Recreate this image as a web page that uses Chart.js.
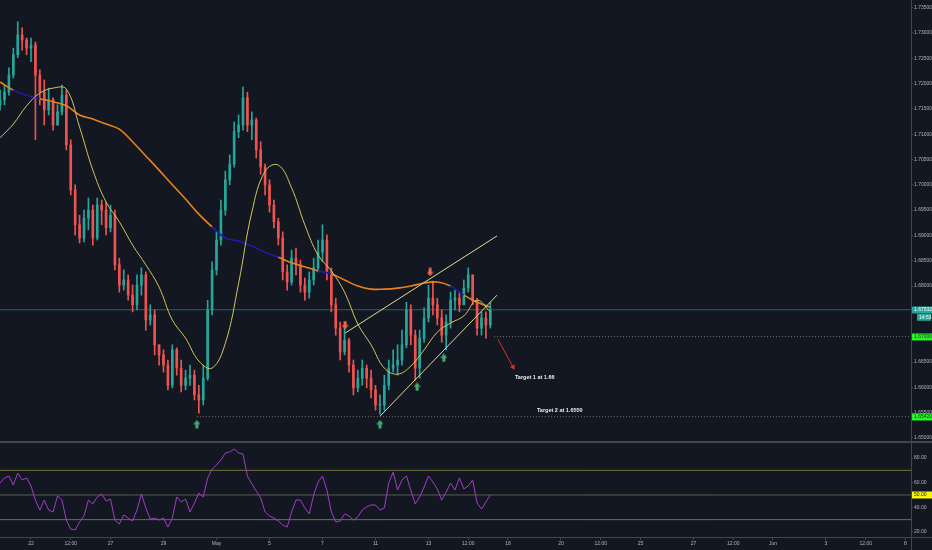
<!DOCTYPE html>
<html>
<head>
<meta charset="utf-8">
<script src="https://cdn.jsdelivr.net/npm/chart.js@4"></script>
<style>
  html, body { margin: 0; padding: 0; background: #131722; }
</style>
</head>
<body>
<canvas id="myChart" width="932" height="550"></canvas>
<script>
// 4h bars, time in trading days from Apr 22 00:00 (weekends removed)
const barStart = -7 / 6;
const barStep = 1 / 6;
const maStep = 0.5;

const close = [
  1.7168, 1.7183, 1.7217, 1.7257, 1.7296, 1.7286, 1.7270, 1.7276, 1.7217, 1.7183,
  1.7148, 1.7168, 1.7118, 1.7144, 1.7177, 1.7079, 1.6990, 1.6921, 1.6895, 1.6934,
  1.6950, 1.6895, 1.6960, 1.6950, 1.6915, 1.6940, 1.6842, 1.6802, 1.6812, 1.6782,
  1.6763, 1.6802, 1.6822, 1.6733, 1.6743, 1.6684, 1.6664, 1.6644, 1.6604, 1.6674,
  1.6638, 1.6604, 1.6618, 1.6624, 1.6585, 1.6575, 1.6618, 1.6753, 1.6832, 1.6891,
  1.6950, 1.7010, 1.7041, 1.7105, 1.7118, 1.7172, 1.7118, 1.7128, 1.7069, 1.7035,
  1.7000, 1.6960, 1.6927, 1.6895, 1.6828, 1.6808, 1.6855, 1.6842, 1.6802, 1.6788,
  1.6812, 1.6836, 1.6867, 1.6891, 1.6828, 1.6763, 1.6717, 1.6670, 1.6693, 1.6644,
  1.6599, 1.6618, 1.6638, 1.6618, 1.6595, 1.6565, 1.6565, 1.6604, 1.6638, 1.6644,
  1.6654, 1.6684, 1.6753, 1.6703, 1.6638, 1.6697, 1.6737, 1.6776, 1.6763, 1.6737,
  1.6703, 1.6729, 1.6772, 1.6776, 1.6763, 1.6796, 1.6822, 1.6772, 1.6717, 1.6737,
  1.6723, 1.67532
];
const high = [
  1.7187, 1.7197, 1.7231, 1.7270, 1.7322, 1.7310, 1.7290, 1.7290, 1.7282, 1.7227,
  1.7207, 1.7191, 1.7172, 1.7158, 1.7197, 1.7187, 1.7089, 1.7000, 1.6940, 1.6950,
  1.6974, 1.6960, 1.6974, 1.6970, 1.6966, 1.6960, 1.6950, 1.6855, 1.6832, 1.6822,
  1.6802, 1.6822, 1.6836, 1.6828, 1.6763, 1.6753, 1.6684, 1.6674, 1.6654, 1.6684,
  1.6678, 1.6654, 1.6634, 1.6644, 1.6634, 1.6604, 1.6644, 1.6772, 1.6848, 1.6907,
  1.6970, 1.7027, 1.7059, 1.7124, 1.7138, 1.7193, 1.7183, 1.7144, 1.7132, 1.7085,
  1.7041, 1.7010, 1.6970, 1.6934, 1.6907, 1.6842, 1.6871, 1.6875, 1.6851, 1.6816,
  1.6828, 1.6855, 1.6891, 1.6921, 1.6901, 1.6836, 1.6776, 1.6729, 1.6723, 1.6697,
  1.6654, 1.6634, 1.6654, 1.6644, 1.6634, 1.6604, 1.6585, 1.6624, 1.6654, 1.6674,
  1.6684, 1.6713, 1.6768, 1.6763, 1.6713, 1.6713, 1.6757, 1.6802, 1.6810, 1.6776,
  1.6753, 1.6743, 1.6788, 1.6792, 1.6788, 1.6812, 1.6836, 1.6822, 1.6776, 1.6749,
  1.6749, 1.6768
];
const low = [
  1.7148, 1.7158, 1.7177, 1.7211, 1.7251, 1.7266, 1.7257, 1.7243, 1.7089, 1.7158,
  1.7118, 1.7138, 1.7108, 1.7118, 1.7138, 1.7069, 1.6980, 1.6901, 1.6885, 1.6887,
  1.6911, 1.6881, 1.6891, 1.6921, 1.6901, 1.6907, 1.6832, 1.6788, 1.6792, 1.6772,
  1.6749, 1.6753, 1.6782, 1.6713, 1.6723, 1.6664, 1.6644, 1.6630, 1.6595, 1.6599,
  1.6624, 1.6591, 1.6595, 1.6604, 1.6575, 1.6549, 1.6565, 1.6614, 1.6743, 1.6822,
  1.6881, 1.6940, 1.7000, 1.7035, 1.7093, 1.7108, 1.7105, 1.7089, 1.7053, 1.7021,
  1.6980, 1.6946, 1.6915, 1.6881, 1.6812, 1.6792, 1.6802, 1.6822, 1.6788, 1.6772,
  1.6776, 1.6802, 1.6828, 1.6848, 1.6812, 1.6749, 1.6703, 1.6654, 1.6664, 1.6630,
  1.6585, 1.6591, 1.6604, 1.6599, 1.6579, 1.6555, 1.6547, 1.6555, 1.6595, 1.6630,
  1.6624, 1.6644, 1.6678, 1.6684, 1.6614, 1.6618, 1.6689, 1.6729, 1.6743, 1.6723,
  1.6689, 1.6674, 1.6717, 1.6753, 1.6749, 1.6763, 1.6788, 1.6763, 1.6703, 1.6703,
  1.6697, 1.6717
];
const firstOpen = 1.7158;

// moving averages, one value every half day
const fastMa = [
  1.7093, 1.7120, 1.7156, 1.7181, 1.7191, 1.7189, 1.7114, 1.7029, 1.6966, 1.6927,
  1.6881, 1.6842, 1.6798, 1.6733, 1.6697, 1.6652, 1.6638, 1.6687, 1.6805, 1.6946,
  1.7027, 1.7039, 1.6994, 1.6921, 1.6861, 1.6830, 1.6788, 1.6725, 1.6684, 1.6638,
  1.6626, 1.6642, 1.6674, 1.6709, 1.6727, 1.6741, 1.6772, 1.6749
];
const slowMa = [
  1.7203, 1.7187, 1.7177, 1.7170, 1.7164, 1.7156, 1.7138, 1.7130, 1.7120, 1.7110,
  1.7085, 1.7057, 1.7029, 1.7000, 1.6972, 1.6942, 1.6917, 1.6895, 1.6889, 1.6879,
  1.6867, 1.6857, 1.6846, 1.6838, 1.6830, 1.6824, 1.6812, 1.6800, 1.6794, 1.6794,
  1.6796, 1.6800, 1.6806, 1.6808, 1.6800, 1.6782, 1.6768, 1.6758
];
// stretches where the slow average is painted blue
const blueSpans = [[-0.85, 0.25], [7.05, 9.4], [10.9, 11.3], [15.9, 16.3]];

const rsi = [
  59.7, 63.8, 65.4, 58.1, 67.8, 62.2, 63.8, 57.3, 45.9, 37.8,
  45.9, 37.8, 36.2, 49.2, 45.9, 29.7, 22.4, 21.6, 28.1, 33.0,
  45.9, 42.7, 48.4, 50.8, 45.1, 46.7, 29.7, 26.5, 33.8, 31.3,
  28.9, 37.8, 50.8, 39.4, 30.5, 31.3, 29.7, 31.3, 24.0, 31.3,
  48.4, 44.3, 46.7, 36.2, 43.5, 51.6, 48.4, 63.8, 71.1, 74.3,
  78.4, 84.1, 84.9, 87.3, 84.1, 83.2, 65.4, 58.9, 53.2, 47.6,
  36.2, 33.0, 31.3, 28.9, 25.7, 24.0, 36.2, 45.9, 45.9, 39.4,
  34.6, 50.0, 60.5, 65.4, 54.0, 36.2, 28.1, 28.9, 34.6, 33.0,
  29.7, 32.1, 37.8, 40.3, 41.9, 41.9, 37.8, 39.4, 59.7, 68.6,
  54.0, 62.2, 65.4, 54.0, 42.7, 48.4, 56.5, 65.4, 60.5, 54.9,
  45.9, 52.4, 59.7, 54.0, 63.8, 54.9, 57.3, 62.2, 43.5, 38.6,
  44.3, 50.0
];

const xTickPos = [0, 1.5, 3, 5, 7, 9, 11, 13, 15, 16.5, 18, 20, 21.5, 23, 25, 26.5, 28, 30, 31.5, 33];
const xTickLabels = ['22', '12:00', '27', '29', 'May', '5', '7', '11', '13', '12:00', '18', '20', '12:00', '25', '27', '12:00', 'Jun', '3', '12:00', '8'];
const priceTicks = [1.650, 1.655, 1.660, 1.665, 1.670, 1.675, 1.680, 1.685, 1.690, 1.695, 1.700,
  1.705, 1.710, 1.715, 1.720, 1.725, 1.730, 1.735];
const rsiTicks = [20, 40, 60, 80];

// drawings on the chart
const lastPrice = 1.67532;
const level1 = 1.6700;
const level2 = 1.6542;
const upperLine = [{x: 11.85, y: 1.6707}, {x: 17.585, y: 1.6899}];
const lowerLine = [{x: 13.17, y: 1.6543}, {x: 17.585, y: 1.6782}];
const buyMarks = [{x: 6.26, y: 1.6527}, {x: 13.17, y: 1.6527}, {x: 14.57, y: 1.6601}, {x: 15.58, y: 1.6658}];
const sellMarks = [{x: 11.85, y: 1.6723}, {x: 15.06, y: 1.6828}];
const targetArrow = [{x: 17.62, y: 1.6695}, {x: 18.19, y: 1.6640}];
const notes = [
  {x: 18.26, y: 1.6620, text: 'Target 1 at 1.66'},
  {x: 19.09, y: 1.6555, text: 'Target 2 at 1.6550'}
];

const xMin = -1.1698, xMax = 33.208;

const bg = '#131722';
const up = '#26a69a', down = '#ef5350';
const axisLine = '#434651';
const axisText = '#b2b5be';

let ctx = document.getElementById('myChart').getContext('2d');

const open = [firstOpen].concat(close.slice(0, -1));
const barT = close.map((c, i) => barStart + i * barStep);
const maT = fastMa.map((v, i) => barStart + i * maStep);
const candleColors = close.map((c, i) => c >= open[i] ? up : down);

function arrowImage(color, pointUp) {
  const c = document.createElement('canvas');
  c.width = 7; c.height = 9;
  const g = c.getContext('2d');
  g.fillStyle = color;
  g.beginPath();
  if (pointUp) { g.moveTo(3.5, 0); g.lineTo(7, 4.5); g.lineTo(0, 4.5); }
  else { g.moveTo(3.5, 9); g.lineTo(7, 4.5); g.lineTo(0, 4.5); }
  g.fill();
  g.fillRect(2, pointUp ? 4 : 0.5, 3, 4.5);
  return c;
}

function inBlue(a, b) {
  const m = (a + b) / 2;
  return blueSpans.some(s => m > s[0] && m < s[1]);
}

function flat(y, from, to) {
  return [{x: from, y: y}, {x: to, y: y}];
}

const paneTags = {
  id: 'paneTags',
  beforeDraw(chart) {
    const c = chart.ctx;
    c.save();
    c.fillStyle = bg;
    c.fillRect(0, 0, chart.width, chart.height);
    c.restore();
  },
  afterDraw(chart) {
    const c = chart.ctx;
    const ys = chart.scales.y, rs = chart.scales.rsi, xs = chart.scales.x;
    const right = chart.chartArea.right;
    c.save();
    c.fillStyle = axisLine;
    c.fillRect(0, ys.bottom, chart.width, 2);
    c.fillRect(0, rs.bottom, chart.width, 1);
    c.fillRect(right, 0, 1, chart.height);

    c.font = 'bold 5.5px "Liberation Sans"';
    c.fillStyle = '#ebebeb';
    c.textBaseline = 'middle';
    c.textAlign = 'left';
    notes.forEach(n => c.fillText(n.text, xs.getPixelForValue(n.x), ys.getPixelForValue(n.y)));

    function tag(y, text, fill, ink) {
      c.fillStyle = fill;
      c.fillRect(right + 1, Math.round(y) - 3.5, chart.width - right - 1, 7);
      c.fillStyle = ink;
      c.font = '5px "Liberation Sans"';
      c.fillText(text, right + 3, Math.round(y));
    }
    const py = ys.getPixelForValue(lastPrice);
    tag(py, lastPrice.toFixed(5), up, '#ffffff');
    c.fillStyle = up;
    c.fillRect(right + 6, py + 4, 14, 7);
    c.fillStyle = '#ffffff';
    c.fillText('14:53', right + 8, py + 7.5);
    tag(ys.getPixelForValue(level1), '1.67000', '#2cf22c', '#0d3d0d');
    tag(ys.getPixelForValue(level2), '1.65420', '#2cf22c', '#0d3d0d');
    tag(rs.getPixelForValue(50), '50.00', '#f5f50a', '#222222');
    c.restore();
  }
};

myChart = new Chart(ctx, {
  type: 'bar',
  data: {
    datasets: [
      {
        label: 'Wicks',
        data: barT.map((t, i) => ({x: t, y: [low[i], high[i]]})),
        backgroundColor: candleColors,
        barThickness: 1,
        grouped: false,
        yAxisID: 'y',
        order: 20
      },
      {
        label: 'Bodies',
        data: barT.map((t, i) => ({x: t, y: [open[i], close[i]]})),
        backgroundColor: candleColors,
        barThickness: 2,
        minBarLength: 1,
        grouped: false,
        yAxisID: 'y',
        order: 19
      },
      {
        type: 'line', label: 'Last', data: flat(lastPrice, xMin, xMax),
        borderColor: 'rgba(38,166,154,0.55)', borderWidth: 1, pointRadius: 0, yAxisID: 'y', order: 25
      },
      {
        type: 'line', label: 'Level 1', data: flat(level1, 17.47, xMax),
        borderColor: '#787b86', borderWidth: 1, borderDash: [1, 2], pointRadius: 0, yAxisID: 'y', order: 24
      },
      {
        type: 'line', label: 'Level 2', data: flat(level2, 6.26, xMax),
        borderColor: '#6f7a70', borderWidth: 1, borderDash: [1, 2], pointRadius: 0, yAxisID: 'y', order: 24
      },
      {
        type: 'line', label: 'Slow MA',
        data: maT.map((t, i) => ({x: t, y: slowMa[i]})),
        borderColor: '#e8821e', borderWidth: 1.6, pointRadius: 0, tension: 0.4, yAxisID: 'y', order: 8,
        segment: { borderColor: s => inBlue(s.p0.parsed.x, s.p1.parsed.x) ? '#1d1dab' : '#e8821e' }
      },
      {
        type: 'line', label: 'Fast MA',
        data: maT.map((t, i) => ({x: t, y: fastMa[i]})),
        borderColor: '#d2c55a', borderWidth: 1, pointRadius: 0, tension: 0.4, yAxisID: 'y', order: 7
      },
      {
        type: 'line', label: 'Upper', data: upperLine,
        borderColor: '#e3dc8e', borderWidth: 1, pointRadius: 0, yAxisID: 'y', order: 5
      },
      {
        type: 'line', label: 'Lower', data: lowerLine,
        borderColor: '#e3dc8e', borderWidth: 1, pointRadius: 0, yAxisID: 'y', order: 5
      },
      {
        type: 'line', label: 'Target arrow', data: targetArrow,
        borderColor: '#e3302a', borderWidth: 1, yAxisID: 'y', order: 4,
        pointRadius: [0, 3], pointStyle: 'triangle', pointRotation: [0, 152],
        pointBackgroundColor: '#e3302a', pointBorderWidth: 0
      },
      {
        type: 'line', label: 'Buy', data: buyMarks, showLine: false,
        pointStyle: arrowImage('#45a872', true), yAxisID: 'y', order: 2
      },
      {
        type: 'line', label: 'Sell', data: sellMarks, showLine: false,
        pointStyle: arrowImage('#f0654c', false), yAxisID: 'y', order: 2
      },
      {
        type: 'line', label: 'RSI 70', data: flat(70, xMin, xMax),
        borderColor: '#6f7236', borderWidth: 1, pointRadius: 0, yAxisID: 'rsi', order: 30
      },
      {
        type: 'line', label: 'RSI 50', data: flat(50, xMin, xMax),
        borderColor: '#5b5d4c', borderWidth: 1, pointRadius: 0, yAxisID: 'rsi', order: 30
      },
      {
        type: 'line', label: 'RSI 30', data: flat(30, xMin, xMax),
        borderColor: '#6f7236', borderWidth: 1, pointRadius: 0, yAxisID: 'rsi', order: 30
      },
      {
        type: 'line', label: 'RSI',
        data: barT.map((t, i) => ({x: t, y: rsi[i]})),
        borderColor: '#a13dc6', borderWidth: 1, pointRadius: 0, yAxisID: 'rsi', order: 1
      }
    ]
  },
  options: {
    responsive: false,
    animation: false,
    events: [],
    layout: { padding: 0, autoPadding: false },
    plugins: { legend: { display: false }, tooltip: { enabled: false } },
    scales: {
      x: {
        type: 'linear', min: xMin, max: xMax, offset: false,
        afterBuildTicks: s => { s.ticks = xTickPos.map(v => ({value: v})); },
        afterFit: s => { s.height = 13; s.paddingLeft = 0; s.paddingRight = 0; },
        ticks: {
          autoSkip: false, maxRotation: 0, padding: 1, color: axisText,
          font: { size: 5, family: 'Liberation Sans' },
          callback: (v, i) => xTickLabels[i]
        },
        grid: { offset: false, drawOnChartArea: false, tickLength: 3, color: axisLine },
        border: { color: axisLine }
      },
      y: {
        position: 'right', stack: 'panes', stackWeight: 441,
        min: 1.6494, max: 1.7365,
        afterBuildTicks: s => { s.ticks = priceTicks.map(v => ({value: v})); },
        afterFit: s => { s.width = 21; s.paddingTop = 0; s.paddingBottom = 0; },
        ticks: {
          padding: 1, color: axisText, font: { size: 5, family: 'Liberation Sans' },
          callback: v => v.toFixed(5)
        },
        grid: { drawOnChartArea: false, tickLength: 2, color: axisLine },
        border: { color: axisLine }
      },
      rsi: {
        position: 'right', stack: 'panes', stackWeight: 96,
        min: 15.93, max: 93.79,
        afterBuildTicks: s => { s.ticks = rsiTicks.map(v => ({value: v})); },
        afterFit: s => { s.width = 21; s.paddingTop = 0; s.paddingBottom = 0; },
        ticks: {
          padding: 1, color: axisText, font: { size: 5, family: 'Liberation Sans' },
          callback: v => v.toFixed(2)
        },
        grid: { drawOnChartArea: false, tickLength: 2, color: axisLine },
        border: { color: axisLine }
      }
    }
  },
  plugins: [paneTags]
});
</script>
</body>
</html>
